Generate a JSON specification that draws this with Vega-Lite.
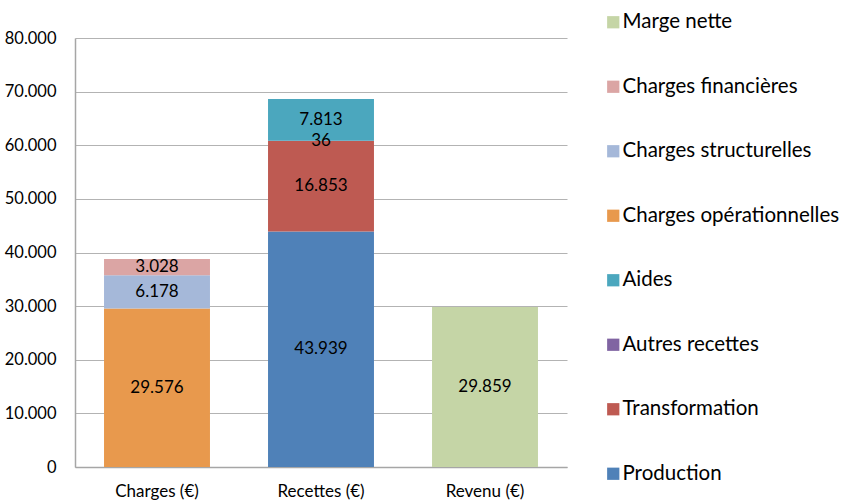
{
  "$schema": "https://vega.github.io/schema/vega-lite/v6.json",
  "width": 492,
  "height": 429,
  "autosize": {"type": "none"},
  "padding": {"left": 75, "top": 38, "right": 283, "bottom": 37},
  "background": "white",
  "config": {
    "view": {"stroke": null},
    "font": "Lato",
    "locale": {"number": {"decimal": ",", "thousands": ".", "grouping": [3], "currency": ["", " €"]}}
  },
  "data": {
    "values": [
      {"cat": "Charges (€)", "serie": "Charges opérationnelles", "ord": 5, "value": 29576},
      {"cat": "Charges (€)", "serie": "Charges structurelles", "ord": 6, "value": 6178},
      {"cat": "Charges (€)", "serie": "Charges financières", "ord": 7, "value": 3028},
      {"cat": "Recettes (€)", "serie": "Production", "ord": 1, "value": 43939},
      {"cat": "Recettes (€)", "serie": "Transformation", "ord": 2, "value": 16853},
      {"cat": "Recettes (€)", "serie": "Autres recettes", "ord": 3, "value": 36},
      {"cat": "Recettes (€)", "serie": "Aides", "ord": 4, "value": 7813},
      {"cat": "Revenu (€)", "serie": "Marge nette", "ord": 8, "value": 29859}
    ]
  },
  "transform": [
    {"stack": "value", "groupby": ["cat"], "sort": [{"field": "ord", "order": "ascending"}], "as": ["v0", "v1"]},
    {"calculate": "(datum.v0 + datum.v1) / 2", "as": "mid"}
  ],
  "encoding": {
    "x": {
      "field": "cat",
      "type": "nominal",
      "sort": ["Charges (€)", "Recettes (€)", "Revenu (€)"],
      "scale": {"paddingInner": 0.354, "paddingOuter": 0.177},
      "axis": {
        "title": null,
        "labelAngle": 0,
        "labelFontSize": 17,
        "labelColor": "#000000",
        "labelPadding": 16,
        "ticks": false,
        "domainColor": "#A6A6A6",
        "domainWidth": 1.5
      }
    }
  },
  "layer": [
    {
      "mark": {"type": "bar"},
      "encoding": {
        "y": {
          "field": "v0",
          "type": "quantitative",
          "scale": {"domain": [0, 80000], "nice": false},
          "axis": {
            "title": null,
            "values": [0, 10000, 20000, 30000, 40000, 50000, 60000, 70000, 80000],
            "format": ",.0f",
            "labelFontSize": 16.5,
            "labelColor": "#000000",
            "labelPadding": 19,
            "ticks": false,
            "grid": true,
            "gridColor": "#B3B3B3",
            "gridWidth": 1.2,
            "domainColor": "#A6A6A6",
            "domainWidth": 1.5
          }
        },
        "y2": {"field": "v1"},
        "color": {
          "field": "serie",
          "type": "nominal",
          "scale": {
            "domain": ["Marge nette", "Charges financières", "Charges structurelles", "Charges opérationnelles", "Aides", "Autres recettes", "Transformation", "Production"],
            "range": ["#C5D5A6", "#DBA5A4", "#A5B8D9", "#E8994D", "#4BA7BE", "#8064A2", "#BE5A52", "#4F81B8"]
          },
          "legend": {
            "title": null,
            "orient": "none",
            "legendX": 528,
            "legendY": -26,
            "padding": 0,
            "symbolType": "square",
            "symbolSize": 150,
            "symbolStrokeWidth": 0,
            "labelFontSize": 20.5,
            "labelColor": "#000000",
            "labelOffset": -1,
            "rowPadding": 43.5,
            "labelLimit": 400
          }
        }
      }
    },
    {
      "mark": {"type": "text", "fontSize": 17, "color": "#000000"},
      "encoding": {
        "y": {"field": "mid", "type": "quantitative"},
        "text": {"field": "value", "type": "quantitative", "format": ",.0f"}
      }
    }
  ]
}
